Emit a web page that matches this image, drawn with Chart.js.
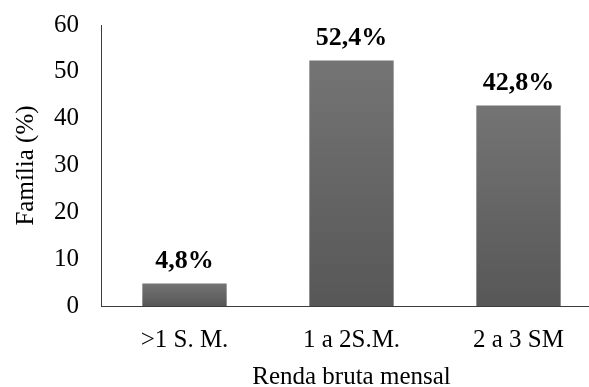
<!DOCTYPE html>
<html>
<head>
<meta charset="utf-8">
<script src="https://cdn.jsdelivr.net/npm/chart.js@4"></script>
<style>
  html, body { margin: 0; padding: 0; background: #fff; overflow: hidden; }
  #wrap { width: 602px; height: 387px; }
</style>
</head>
<body>
<div id="wrap"><canvas id="c" width="602" height="387"></canvas></div>
<script>
// Income brackets and share of families (%)
const categories = ['>1 S. M.', '1 a 2S.M.', '2 a 3 SM'];
const familyShare = [4.8, 52.4, 42.8];
const yTicks = [0, 10, 20, 30, 40, 50, 60];

const SERIF = '"Liberation Serif", "Times New Roman", serif';

// Vertical grey gradient for each bar, from its top down to the baseline
function barGradient(context) {
  const chart = context.chart;
  if (!chart.chartArea || context.type !== 'data') return '#666666';
  const y = chart.scales.y;
  const top = y.getPixelForValue(context.raw);
  const bottom = y.getPixelForValue(0);
  const g = chart.ctx.createLinearGradient(0, top, 0, bottom);
  g.addColorStop(0, '#747474');
  g.addColorStop(1, '#575757');
  return g;
}

// Value labels above bars, with a decimal comma
const valueLabels = {
  id: 'valueLabels',
  afterDatasetsDraw(chart) {
    const ctx = chart.ctx;
    const meta = chart.getDatasetMeta(0);
    ctx.save();
    ctx.font = 'bold 26px ' + SERIF;
    ctx.fillStyle = '#000';
    ctx.textAlign = 'center';
    ctx.textBaseline = 'alphabetic';
    meta.data.forEach((bar, i) => {
      const v = chart.data.datasets[0].data[i];
      const text = v.toFixed(1).replace('.', ',') + '%';
      ctx.fillText(text, bar.x, bar.y - 16);
    });
    ctx.restore();
  }
};

new Chart(document.getElementById('c'), {
  type: 'bar',
  data: {
    labels: categories,
    datasets: [{
      data: familyShare,
      backgroundColor: barGradient,
      borderWidth: 0,
      barPercentage: 0.505,
      categoryPercentage: 1.0
    }]
  },
  options: {
    responsive: false,
    animation: false,
    layout: { padding: 0 },
    plugins: {
      legend: { display: false },
      tooltip: { enabled: false }
    },
    scales: {
      x: {
        afterFit(scale) {
          scale.height = 81;
        },
        grid: { display: false, drawTicks: false },
        border: { display: true, color: '#3c3c3c', width: 1 },
        ticks: {
          color: '#000',
          padding: 19,
          font: { family: SERIF, size: 25 }
        },
        title: {
          display: true,
          text: 'Renda bruta mensal',
          color: '#000',
          padding: { top: 0, bottom: -5 },
          font: { family: SERIF, size: 25 }
        }
      },
      y: {
        min: 0,
        max: 60,
        afterBuildTicks(scale) {
          scale.ticks = yTicks.map(v => ({ value: v }));
        },
        afterFit(scale) {
          scale.width = 101;
          scale.paddingTop = 25;
          scale.paddingBottom = 0;
        },
        grid: { display: false, drawTicks: false },
        border: { display: true, color: '#3c3c3c', width: 1 },
        ticks: {
          color: '#000',
          padding: 22,
          font: { family: SERIF, size: 25 }
        },
        title: {
          display: true,
          text: 'Família (%)',
          color: '#000',
          padding: { top: 11, bottom: 0 },
          font: { family: SERIF, size: 25 }
        }
      }
    }
  },
  plugins: [valueLabels]
});
</script>
</body>
</html>
